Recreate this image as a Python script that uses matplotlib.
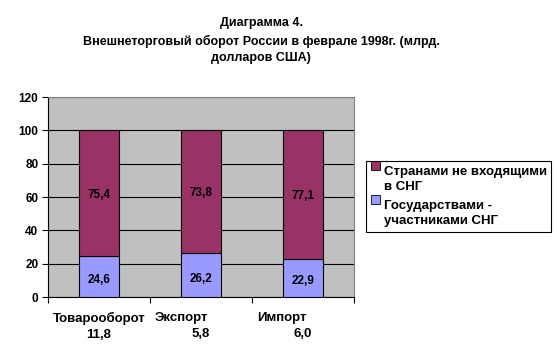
import matplotlib.pyplot as plt
from matplotlib.patches import Patch, Rectangle
from matplotlib.legend_handler import HandlerPatch
from matplotlib.transforms import blended_transform_factory, offset_copy

plt.rcParams['font.family'] = ['Liberation Sans', 'DejaVu Sans']
plt.rcParams['font.weight'] = 'bold'
plt.rcParams['font.size'] = 9

categories = ["Товарооборот", "Экспорт", "Импорт"]
totals = ["11,8", "5,8", "6,0"]
cis_share = [24.6, 26.2, 22.9]
non_cis_share = [75.4, 73.8, 77.1]
series_names = ["Странами не входящими\nв СНГ", "Государствами -\nучастниками СНГ"]

BLUE = "#9999FF"
MAROON = "#993366"
GRAY = "#C0C0C0"


def fmt(v):
    return f"{v:.1f}".replace(".", ",")


def first_line_square(legend, orig_handle, xdescent, ydescent, width, height, fontsize):
    # keep the key next to the first text line, like Excel does
    return Rectangle((-xdescent, -ydescent + fontsize * 1.05), width, height)


fig = plt.figure(figsize=(5.57, 3.6), dpi=100)
ax = fig.add_axes([48 / 557, 63 / 360, 306 / 557, 200 / 360])
ax.set_facecolor(GRAY)

x = list(range(len(categories)))
ax.bar(x, cis_share, width=0.4, color=BLUE, edgecolor="black", linewidth=0.8, zorder=3)
ax.bar(x, non_cis_share, width=0.4, bottom=cis_share, color=MAROON,
       edgecolor="black", linewidth=0.8, zorder=3)

for i in x:
    ax.text(i, cis_share[i] / 2 - 2, fmt(cis_share[i]), ha="center", va="center",
            fontsize=8.5, zorder=4)
    ax.text(i, cis_share[i] + non_cis_share[i] / 2 - 1, fmt(non_cis_share[i]),
            ha="center", va="center", fontsize=8.5, zorder=4)

ax.set_xlim(-0.5, 2.5)
ax.set_ylim(0, 120)
ax.set_yticks(range(0, 121, 20))
ax.yaxis.grid(True, color="black", linewidth=0.8, zorder=0)
ax.set_axisbelow(True)
ax.set_xticks([-0.5, 0.5, 1.5, 2.5])
ax.set_xticklabels([])
ax.tick_params(axis="x", direction="out", length=4, width=0.8)
ax.tick_params(axis="y", direction="out", length=4, width=0.8, pad=3, labelsize=8.5)
for lbl in ax.get_yticklabels():
    lbl.set_fontweight("bold")
for side in ("top", "right"):
    ax.spines[side].set_color("#808080")
for side in ("left", "bottom"):
    ax.spines[side].set_color("black")

# category labels under the axis
trans = blended_transform_factory(ax.transData, ax.transAxes)
ax.text(0, -0.075, categories[0] + "\n" + totals[0], transform=trans, ha="center", va="top",
        multialignment="center", linespacing=1.45, fontsize=9.5)
for i in (1, 2):
    t1 = offset_copy(trans, fig=fig, x=-46, y=0, units="dots")
    ax.text(i, -0.075, categories[i], transform=t1, ha="left", va="top", fontsize=9.5)
    t2 = offset_copy(trans, fig=fig, x=9, y=-16, units="dots")
    ax.text(i, -0.075, totals[i], transform=t2, ha="right", va="top", fontsize=9.5)

fig.text(261 / 557, 1 - 17 / 360,
         "Диаграмма 4.\nВнешнеторговый оборот России в феврале 1998г. (млрд.\nдолларов США)",
         ha="center", va="top", fontsize=9, fontweight="bold", linespacing=1.55)

handles = [Patch(facecolor=MAROON, edgecolor="black", linewidth=0.6),
           Patch(facecolor=BLUE, edgecolor="black", linewidth=0.6)]
leg = fig.legend(handles, series_names, loc="upper left",
                 bbox_to_anchor=(366 / 557, 1 - 161 / 360), fancybox=False,
                 edgecolor="black", framealpha=1, handlelength=0.7, handleheight=0.7,
                 handletextpad=0.3, borderpad=0.35, labelspacing=0.55, borderaxespad=0,
                 prop={"weight": "bold", "size": 9.5},
                 handler_map={Patch: HandlerPatch(patch_func=first_line_square)})
leg.get_frame().set_linewidth(0.8)
for t in leg.get_texts():
    t.set_linespacing(1.35)

fig.savefig("out.png", dpi=100)
